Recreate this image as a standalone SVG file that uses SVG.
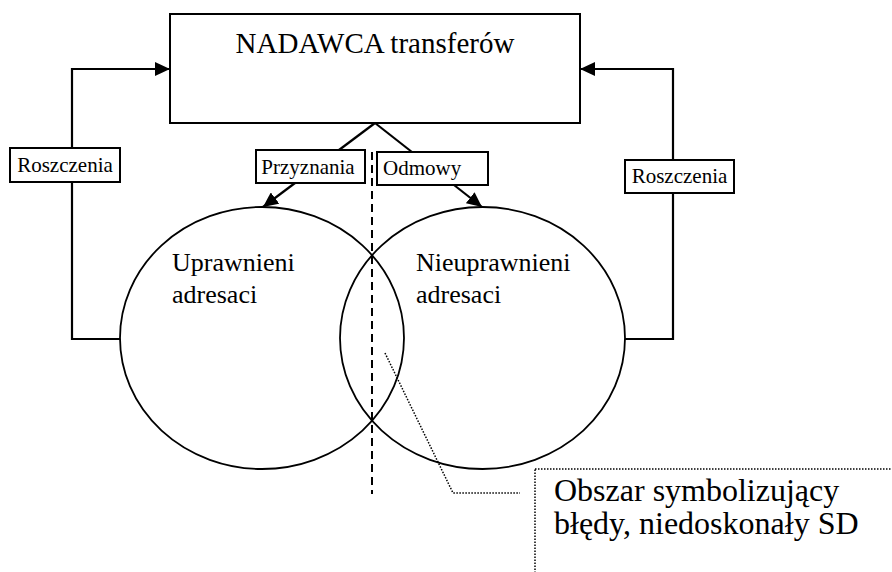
<svg xmlns="http://www.w3.org/2000/svg" width="892" height="572" viewBox="0 0 892 572">
  <defs>
    <style>
      text { font-family: "Liberation Serif", "Times New Roman", serif; fill: #000; }
      .box { fill: #fff; stroke: #000; stroke-width: 2; }
      .set { fill: none; stroke: #000; stroke-width: 1.8; }
      .flow { fill: none; stroke: #000; stroke-width: 2.2; }
      .dash { fill: none; stroke: #000; stroke-width: 2; stroke-dasharray: 8 5; }
      .dot { fill: none; stroke: #000; stroke-width: 1.5; stroke-dasharray: 1.5 1.5; }
    </style>
    <marker id="arrow" markerUnits="userSpaceOnUse" markerWidth="16" markerHeight="14" refX="15" refY="7" orient="auto">
      <path d="M0,0 L15,7 L0,14 z" fill="#000"/>
    </marker>
  </defs>

  <rect width="892" height="572" fill="#fff"/>

  <!-- sets of addressees -->
  <g id="uprawnieni">
    <ellipse class="set" cx="262" cy="338" rx="142" ry="131"/>
    <text x="172" y="271" font-size="26">Uprawnieni</text>
    <text x="172" y="303" font-size="26">adresaci</text>
  </g>
  <g id="nieuprawnieni">
    <ellipse class="set" cx="482.5" cy="338" rx="142.5" ry="131"/>
    <text x="416" y="271" font-size="26">Nieuprawnieni</text>
    <text x="416" y="303" font-size="26">adresaci</text>
  </g>

  <!-- connectors -->
  <g id="connectors">
    <polyline class="flow" points="120,339 72,339 72,69 170,69" marker-end="url(#arrow)"/>
    <polyline class="flow" points="625,339 673,339 673,69 580,69" marker-end="url(#arrow)"/>
    <line class="flow" x1="375" y1="123" x2="263" y2="207" marker-end="url(#arrow)"/>
    <line class="flow" x1="375" y1="123" x2="482" y2="207" marker-end="url(#arrow)"/>
    <line class="dash" x1="372" y1="152" x2="372" y2="494"/>
    <polyline class="dot" points="385,353 453,493 520,493"/>
  </g>

  <g id="nadawca">
    <rect class="box" x="170" y="14" width="410" height="109"/>
    <text x="375" y="53" font-size="29" text-anchor="middle">NADAWCA transferów</text>
  </g>

  <g id="roszczenia-lewe">
    <rect class="box" x="10" y="148" width="110" height="34"/>
    <text x="65" y="172" font-size="21" text-anchor="middle">Roszczenia</text>
  </g>
  <g id="roszczenia-prawe">
    <rect class="box" x="625" y="160" width="109" height="33"/>
    <text x="679.5" y="183" font-size="21" text-anchor="middle">Roszczenia</text>
  </g>
  <g id="przyznania">
    <rect class="box" x="256" y="150" width="109" height="33"/>
    <text x="308" y="173.5" font-size="21" text-anchor="middle">Przyznania</text>
  </g>
  <g id="odmowy">
    <rect class="box" x="377" y="152" width="111" height="33"/>
    <text x="383" y="175" font-size="21">Odmowy</text>
  </g>

  <g id="obszar-bledow">
    <rect class="dot" x="535" y="469" width="370" height="120" fill="#fff"/>
    <text x="554" y="501" font-size="32">Obszar symbolizujący</text>
    <text x="554" y="534" font-size="32">błędy, niedoskonały SD</text>
  </g>
</svg>
